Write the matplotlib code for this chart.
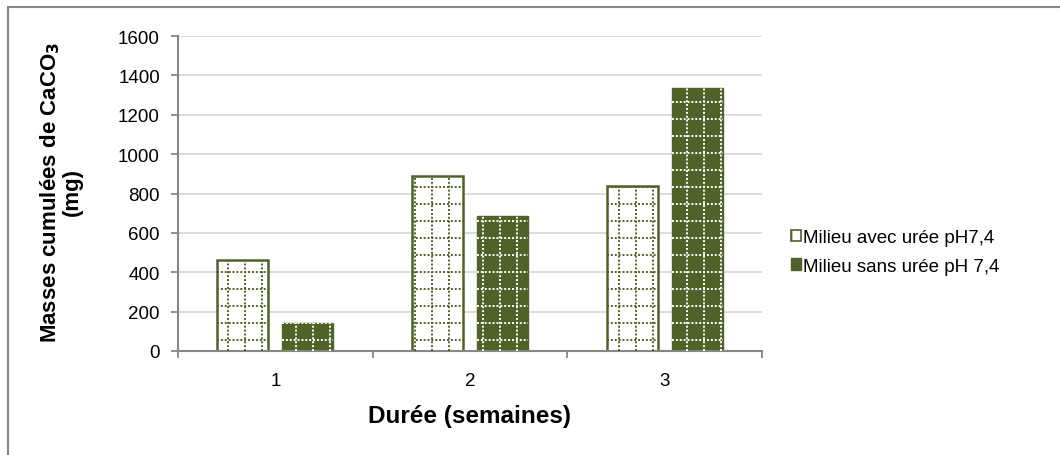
import numpy as np
import matplotlib.pyplot as plt
from matplotlib.patches import Patch, Rectangle

plt.rcParams['font.family'] = ['Liberation Sans', 'DejaVu Sans']
plt.rcParams['font.size'] = 13.5

weeks = ['1', '2', '3']
avec_uree = [460, 888, 838]
sans_uree = [140, 688, 1338]
labels = ['Milieu avec urée pH7,4', 'Milieu sans urée pH 7,4']

OLIVE = '#4f6228'
AXIS = '#868686'
GRID = '#d9d9d9'


def dotted_grid(ax, bars, color, dx, dy, x0, y0):
    # dotted check pattern clipped to each bar
    for b in bars:
        left, w, h = b.get_x(), b.get_width(), b.get_height()
        xs = x0 + dx * np.arange(int((left - x0) / dx) - 1, int((left + w - x0) / dx) + 2)
        ys = y0 + dy * np.arange(-1, int(h / dy) + 2)
        v = ax.vlines(xs, 0, h, colors=color, linewidth=1.4,
                      linestyles=(0, (1, 1)), zorder=3)
        hl = ax.hlines(ys, left, left + w, colors=color, linewidth=1.4,
                       linestyles=(0, (1, 1)), zorder=3)
        v.set_clip_path(b)
        hl.set_clip_path(b)


fig = plt.figure(figsize=(10.6, 4.56), dpi=100)
fig.patches.append(Rectangle((8 / 1060, -0.1), 1.2, 1.1 - 8 / 456, transform=fig.transFigure,
                             fill=False, edgecolor=AXIS, linewidth=1.5))

ax = fig.add_axes([178 / 1060, 1 - 352 / 456, 584 / 1060, 315 / 456])
x = np.arange(len(weeks))
w = 0.262
off = 0.167
b1 = ax.bar(x - off, avec_uree, w, facecolor='white', edgecolor=OLIVE,
            linewidth=1.8, zorder=2)
b2 = ax.bar(x + off, sans_uree, w, facecolor=OLIVE, edgecolor=OLIVE,
            linewidth=1.0, zorder=2)

unit_px = 584 / 3
dotted_grid(ax, b1, OLIVE, 17 / unit_px, 86.3, -0.5 + 16 / unit_px, 56)
dotted_grid(ax, b2, 'white', 17 / unit_px, 86.3, -0.5 + 16 / unit_px, 56)

ax.set_xlim(-0.5, 2.5)
ax.set_ylim(0, 1600)
ax.set_yticks(np.arange(0, 1601, 200))
ax.set_xticks(x)
ax.set_xticklabels(weeks)
ax.set_xticks([-0.5, 0.5, 1.5, 2.5], minor=True)
ax.tick_params(axis='x', which='major', length=0, pad=15)
ax.tick_params(axis='x', which='minor', length=5, color=AXIS, width=1.3)
ax.tick_params(axis='y', length=5, color=AXIS, width=1.3, pad=8)
ax.yaxis.grid(True, color=GRID, linewidth=1.3, zorder=0)
ax.set_axisbelow(True)
for s in ['top', 'right']:
    ax.spines[s].set_visible(False)
for s in ['left', 'bottom']:
    ax.spines[s].set_color(AXIS)
    ax.spines[s].set_linewidth(1.5)

fig.text(61 / 1060, 1 - 192 / 456, 'Masses cumulées de CaCO$_\\mathbf{3}$\n(mg)',
         rotation=90, ha='center', va='center', fontweight='bold', fontsize=16,
         linespacing=1.0, multialignment='center')
ax.set_xlabel('Durée (semaines)', fontweight='bold', fontsize=17.5, labelpad=11)

handles = [Patch(facecolor='white', edgecolor=OLIVE, hatch='+', linewidth=1.2),
           Patch(facecolor=OLIVE, edgecolor=OLIVE, linewidth=1.0)]
fig.legend(handles, labels, loc='center left', bbox_to_anchor=(774 / 1060, 1 - 253 / 456),
           frameon=False, handlelength=0.55, handleheight=0.55, handletextpad=0.12,
           labelspacing=0.6, fontsize=13.5)

fig.savefig('out.png', dpi=100, facecolor='white')
